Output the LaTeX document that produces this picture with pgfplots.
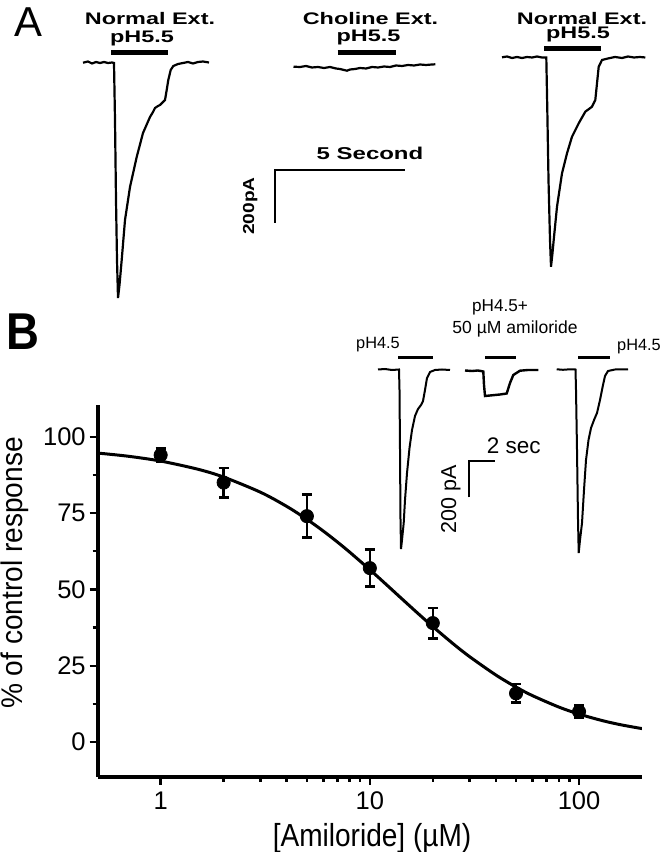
\documentclass[border=0pt]{standalone}
\usepackage{fontspec}
\setmainfont{Liberation Sans}
\newfontfamily\narrowfont[FakeStretch=0.88]{Liberation Sans}
\newfontfamily\labelfont[FakeStretch=0.94]{Liberation Sans}
\newfontfamily\widefont[FakeStretch=1.4]{Liberation Sans}
\newfontfamily\midfont[FakeStretch=1.2]{Liberation Sans}
\usepackage{pgfplots}
\pgfplotsset{compat=1.18}

% dose-response data (% of control, SEM)
\pgfplotstableread{
x    y    e
1    94   2.2
2    85   4.8
5    74   7.0
10   57   6.0
20   39   5.0
50   16   3.0
100  10   2.0
}\dosedata

\begin{document}
\begin{tikzpicture}
\useasboundingbox (0,0) rectangle (332bp,426bp);

% panel B: main dose-response axis
\begin{axis}[
  at={(48.85bp,37.65bp)}, anchor=south west,
  scale only axis, width=272.15bp, height=185.85bp,
  xmode=log, xmin=0.5, xmax=200,
  ymin=-11.3, ymax=110.4,
  axis lines*=left,
  axis line style={line width=1.8bp},
  xtick={1,10,100}, xticklabels={1,10,100},
  ytick={0,25,50,75,100}, minor ytick={12.5,37.5,62.5,87.5},
  tick align=outside,
  major tick length=4bp, minor tick length=2.5bp,
  every tick/.style={black, line width=1.2bp},
  /pgf/number format/assume math mode=true,
  ticklabel style={font=\fontsize{12.8}{12.8}\selectfont},
  yticklabel style={xshift=1.5bp},
  xlabel={[Amiloride] (µM)}, ylabel={\% of control response},
  every axis x label/.style={at={(axis description cs:0.504,-0.165)}, anchor=center, font=\narrowfont\fontsize{16}{16}\selectfont},
  every axis y label/.style={at={(axis description cs:-0.152,0.548)}, anchor=center, rotate=90, font=\labelfont\fontsize{15}{15}\selectfont},
]
\addplot[black, line width=1.5bp, smooth] coordinates {
 (0.5,94.66) (0.7,93.62) (1,92.04) (1.5,89.40) (2,86.80) (3,81.84) (4,77.22)
 (5,72.98) (6,69.09) (7,65.52) (8,62.25) (10,56.48) (12,51.58) (14,47.38)
 (17,42.13) (20,37.85) (25,32.24) (30,27.99) (40,22.01) (50,18.03) (60,15.22)
 (80,11.51) (100,9.20) (130,7.02) (160,5.64) (200,4.45)};
\addplot[black, only marks, mark=*, mark size=3.3bp,
  error bars/.cd, y dir=both, y explicit,
  error bar style={line width=1.2bp},
  error mark=-,
  error mark options={rotate=90, black, line width=1.3bp, mark size=2.5bp}]
  table[x=x, y=y, y error=e] {\dosedata};
\end{axis}

% overlay in pixel units for the traces, scale bars and labels
\begin{axis}[
  at={(0,0)}, anchor=south west,
  scale only axis, width=332bp, height=426bp,
  xmin=0, xmax=664, ymin=0, ymax=852, y dir=reverse,
  hide axis, clip=false,
]
% panel A traces
\addplot[black, line width=1.1bp] coordinates {
 (83,62.7) (88,61.5) (92,63.5) (96,62) (100,63) (104,62) (108,63) (112,62.5) (114,63)
 (115,120) (116,200) (117,260) (118,298) (119.5,285) (121.7,260) (125,220) (130,187)
 (136.7,157) (143,133) (150,117) (153,112) (155,108) (158,106) (160,105) (163,102)
 (165,100) (166.7,90) (168.3,80) (170.7,70) (173.3,66) (178,64) (183,63) (188,62)
 (193,63.5) (198,62) (203,61.5) (209,62.5)};
\addplot[black, line width=1.1bp] coordinates {
 (293.5,66.7) (300,67) (306,66) (312,67.5) (318,67) (324,68) (330,67) (336,68.5)
 (340,69) (344,70) (347,70.7) (350,69.5) (355,69) (360,68) (366,68.5) (372,67)
 (378,67.5) (384,66.5) (390,67) (396,65.5) (402,66) (408,65) (414,65.5) (420,64.5)
 (426,65) (432,64.5) (435.3,64.3)};
\addplot[black, line width=1.1bp] coordinates {
 (502,57.3) (507,56.5) (512,58) (517,57) (522,58) (527,57) (532,57.5) (537,56.5)
 (542,57.5) (546.3,57.5) (547.3,110) (548.5,180) (550,240) (551,266.7) (552.3,255)
 (553.7,240) (557,206.7) (562,173.3) (567,153.3) (572,136.7) (578.7,123.3)
 (585.3,111.7) (592,106.7) (595.3,100) (597,83.3) (598.7,66.7) (602,60) (608.7,58.3)
 (615,57) (622,58) (628,56.5) (634,57.5) (640,57) (645.3,57.5)};
% panel A stimulus bars
\addplot[black, line width=2.5bp] coordinates {(111,53) (168,53)};
\addplot[black, line width=2.5bp] coordinates {(337.5,52.3) (396,52.3)};
\addplot[black, line width=2.5bp] coordinates {(544.3,48.3) (601.3,48.3)};
% panel A scale bar
\addplot[black, line width=1bp] coordinates {(275.3,222.7) (275.3,170) (405.3,170)};

% panel B inset traces
\addplot[black, line width=1bp] coordinates {
 (378,369.5) (385,369) (392,370) (399,369.5) (399.5,390) (400,450) (400.5,520) (401,549)
 (402,540) (403.7,523) (405,500) (407,473) (409.5,448) (412,430) (415,416) (418,409)
 (421,405) (423,401) (425,390) (427,378) (430,372) (435,370) (442,369.5) (450,370)};
\addplot[black, line width=1.2bp] coordinates {
 (465,370.5) (472,371) (478,370.5) (483.3,371.5) (484,385) (485,396) (490,395.5)
 (495,395) (500,394.5) (506.7,393.5) (510,383) (513.3,375) (520,370.7) (528,370) (538.3,370)};
\addplot[black, line width=1bp] coordinates {
 (556.7,369.3) (563,369.8) (570,369.3) (575.5,369.5) (576,390) (577,450) (578,520)
 (578.7,553) (580,540) (582,523) (584,490) (586,460) (588.5,440) (591,428) (594,420)
 (597,413) (600,400) (603,385) (605,376) (608,371) (615,369.5) (628,369.3)};
% inset stimulus bars
\addplot[black, line width=1.3bp] coordinates {(398.3,357.3) (432.7,357.3)};
\addplot[black, line width=1.3bp] coordinates {(485,357.3) (516,357.3)};
\addplot[black, line width=1.3bp] coordinates {(578.3,357.3) (610,357.3)};
% inset scale bar
\addplot[black, line width=0.8bp] coordinates {(468.7,497.3) (468.7,460.7) (495.3,460.7)};

% labels
\node[inner sep=0, font=\fontsize{21}{21}\selectfont] at (axis cs:28,22) {A};
\node[inner sep=0, anchor=base, font=\narrowfont\bfseries\fontsize{26}{26}\selectfont] at (axis cs:23,349) {B};
\node[inner sep=0, anchor=base, font=\widefont\bfseries\fontsize{8.4}{8.4}\selectfont] at (axis cs:150,25) {Normal Ext.};
\node[inner sep=0, anchor=base, font=\widefont\bfseries\fontsize{8.4}{8.4}\selectfont] at (axis cs:142,42.5) {pH5.5};
\node[inner sep=0, anchor=base, font=\widefont\bfseries\fontsize{8.4}{8.4}\selectfont] at (axis cs:370.5,25) {Choline Ext.};
\node[inner sep=0, anchor=base, font=\widefont\bfseries\fontsize{8.4}{8.4}\selectfont] at (axis cs:368.5,41.7) {pH5.5};
\node[inner sep=0, anchor=base, font=\widefont\bfseries\fontsize{8.4}{8.4}\selectfont] at (axis cs:582,25) {Normal Ext.};
\node[inner sep=0, anchor=base, font=\widefont\bfseries\fontsize{8.4}{8.4}\selectfont] at (axis cs:578,39) {pH5.5};
\node[inner sep=0, anchor=base, font=\widefont\bfseries\fontsize{8.6}{8.6}\selectfont] at (axis cs:370,160) {5 Second};
\node[inner sep=0, anchor=base, rotate=90, font=\midfont\bfseries\fontsize{8}{8}\selectfont] at (axis cs:254,206) {200pA};

\node[inner sep=0, anchor=base, font=\fontsize{8.2}{8.2}\selectfont] at (axis cs:378,348.3) {pH4.5};
\node[inner sep=0, anchor=base, font=\fontsize{8.6}{8.6}\selectfont] at (axis cs:500,311.7) {pH4.5+};
\node[inner sep=0, anchor=base, font=\fontsize{8.8}{8.8}\selectfont] at (axis cs:515,333.3) {50 µM amiloride};
\node[inner sep=0, anchor=base, font=\fontsize{8.2}{8.2}\selectfont] at (axis cs:639,350.7) {pH4.5};
\node[inner sep=0, anchor=base, font=\fontsize{11.3}{11.3}\selectfont] at (axis cs:513.7,453.3) {2 sec};
\node[inner sep=0, anchor=base, rotate=90, font=\fontsize{10.8}{10.8}\selectfont] at (axis cs:456,499) {200 pA};
\end{axis}
\end{tikzpicture}
\end{document}
